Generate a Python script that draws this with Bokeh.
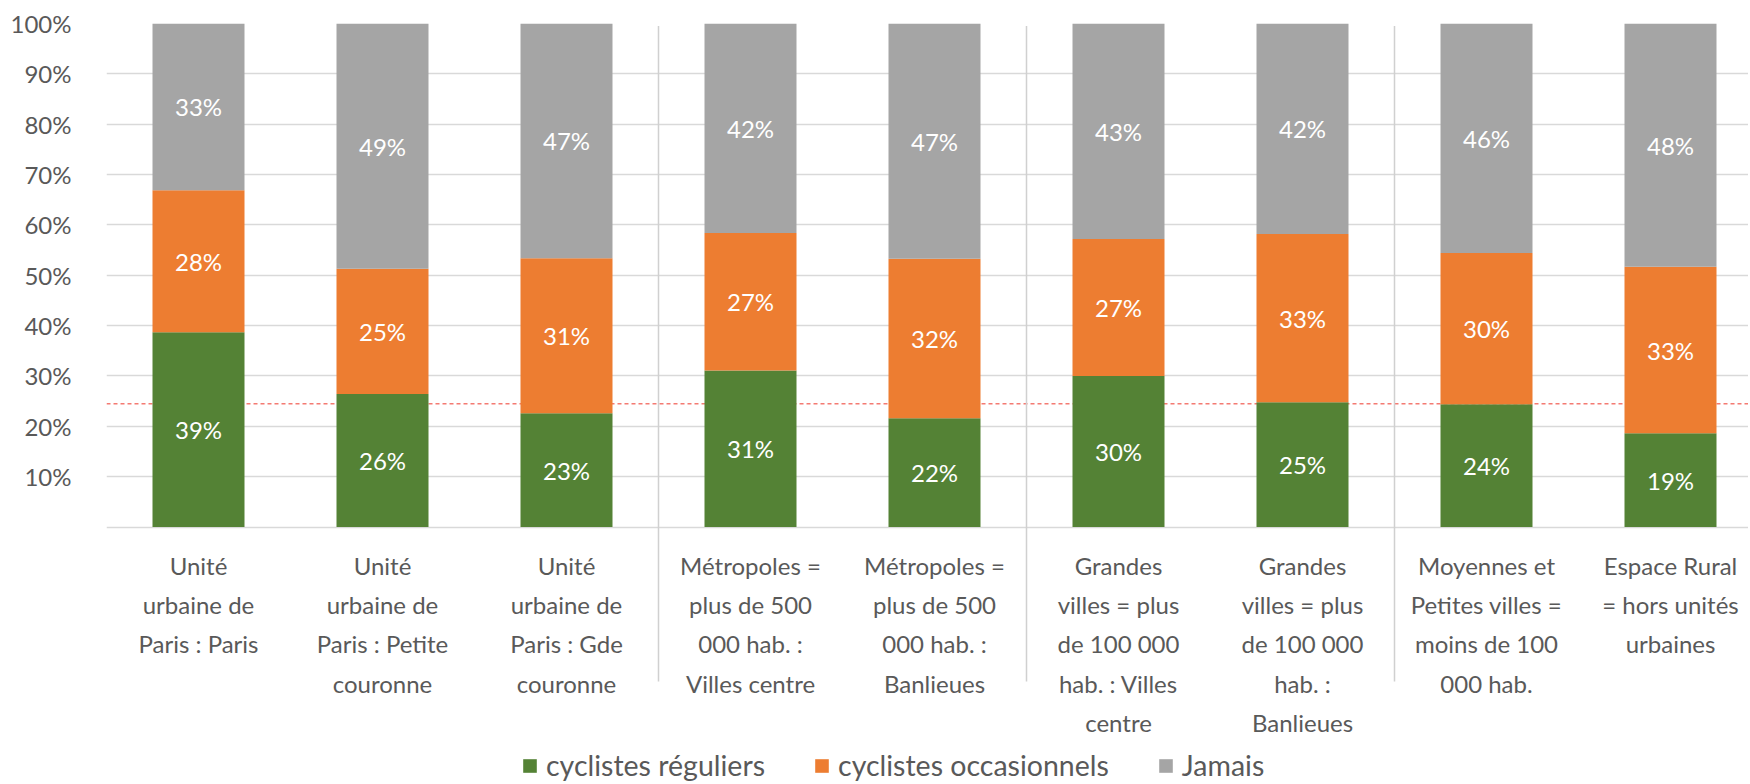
from bokeh.plotting import figure
from bokeh.models import Range1d, FixedTicker, Span, Legend, LegendItem, ColumnDataSource, PrintfTickFormatter
from bokeh.embed import file_html
from bokeh.resources import INLINE
from bokeh.core.properties import value

categories = [
    "Unité\nurbaine de\nParis : Paris",
    "Unité\nurbaine de\nParis : Petite\ncouronne",
    "Unité\nurbaine de\nParis : Gde\ncouronne",
    "Métropoles =\nplus de 500\n000 hab. :\nVilles centre",
    "Métropoles =\nplus de 500\n000 hab. :\nBanlieues",
    "Grandes\nvilles = plus\nde 100 000\nhab. : Villes\ncentre",
    "Grandes\nvilles = plus\nde 100 000\nhab. :\nBanlieues",
    "Moyennes et\nPetites villes =\nmoins de 100\n000 hab.",
    "Espace Rural\n= hors unités\nurbaines",
]
reguliers = [38.7, 26.4, 22.6, 31.1, 21.6, 30.0, 24.8, 24.4, 18.6]
occasionnels = [28.2, 24.9, 30.8, 27.3, 31.7, 27.2, 33.4, 30.0, 33.1]
jamais = [33.1, 48.7, 46.6, 41.6, 46.7, 42.8, 41.8, 45.6, 48.3]
series_names = ["cyclistes réguliers", "cyclistes occasionnels", "Jamais"]
colors = ["#548235", "#ED7D31", "#A5A5A5"]
reference_line = 24.5
group_separators = [2.5, 4.5, 6.5]
y_ticks = [10, 20, 30, 40, 50, 60, 70, 80, 90, 100]

FONT = "Lato"
TXT = "#595959"

x = list(range(len(categories)))
src = ColumnDataSource(dict(x=x, reg=reguliers, occ=occasionnels, jam=jamais))

W, H = 1748, 782
LEFT, TOP = 106, 23
PX_PER_PCT = 5.035
CAT_PX = 184.0
p = figure(width=W, height=H, output_backend="svg", toolbar_location=None,
           x_range=Range1d(-0.5, -0.5 + (W - LEFT) / CAT_PX),
           y_range=Range1d(100 - (H - TOP) / PX_PER_PCT, 100),
           min_border_left=LEFT, min_border_right=0, min_border_top=TOP, min_border_bottom=0)
p.outline_line_color = None
p.xaxis.visible = False
p.xgrid.visible = False
p.ygrid.ticker = FixedTicker(ticks=[0] + y_ticks)
p.ygrid.grid_line_color = "#d9d9d9"
p.ygrid.grid_line_width = 1.5

ax = p.yaxis[0]
ax.ticker = FixedTicker(ticks=y_ticks)
ax.formatter = PrintfTickFormatter(format="%d%%")
ax.axis_line_color = None
ax.major_tick_line_color = None
ax.minor_tick_line_color = None
ax.major_label_standoff = 29
ax.major_label_text_font = FONT
ax.major_label_text_font_size = "24px"
ax.major_label_text_color = TXT

span = Span(location=reference_line, dimension="width", line_color="#f47a72",
            line_dash="4 3", line_width=1.5, level="underlay")
p.add_layout(span)

p.segment(x0=group_separators, y0=[99.5] * 3, x1=group_separators, y1=[-30.7] * 3,
          line_color="#d0d0d0", line_width=1.5)

rs = p.vbar_stack(["reg", "occ", "jam"], x="x", width=0.5, source=src,
                  color=colors, line_color=None)

# value labels
lx, ly, lt = [], [], []
for i in x:
    base = 0
    for v in (reguliers[i], occasionnels[i], jamais[i]):
        lx.append(i)
        ly.append(base + v / 2)
        lt.append(f"{round(v)}%")
        base += v
p.text(x=lx, y=ly, text=lt, text_align="center", text_baseline="middle",
       text_color="white", text_font=value(FONT), text_font_size="24px")

# category labels
p.text(x=x, y=[-4.8] * len(x), text=categories, text_align="center", text_baseline="top",
       text_color=TXT, text_font=value(FONT), text_font_size="24px", text_line_height=1.35)

legend = Legend(items=[LegendItem(label=n, renderers=[r]) for n, r in zip(series_names, rs)],
                orientation="horizontal", location=(415, 0), padding=0, margin=0,
                border_line_color=None, background_fill_alpha=0,
                glyph_width=17, glyph_height=17, label_standoff=8, spacing=48,
                label_text_font=FONT, label_text_font_size="28.5px", label_text_color=TXT)
p.add_layout(legend)

open("out.html", "w").write(file_html(p, INLINE))
